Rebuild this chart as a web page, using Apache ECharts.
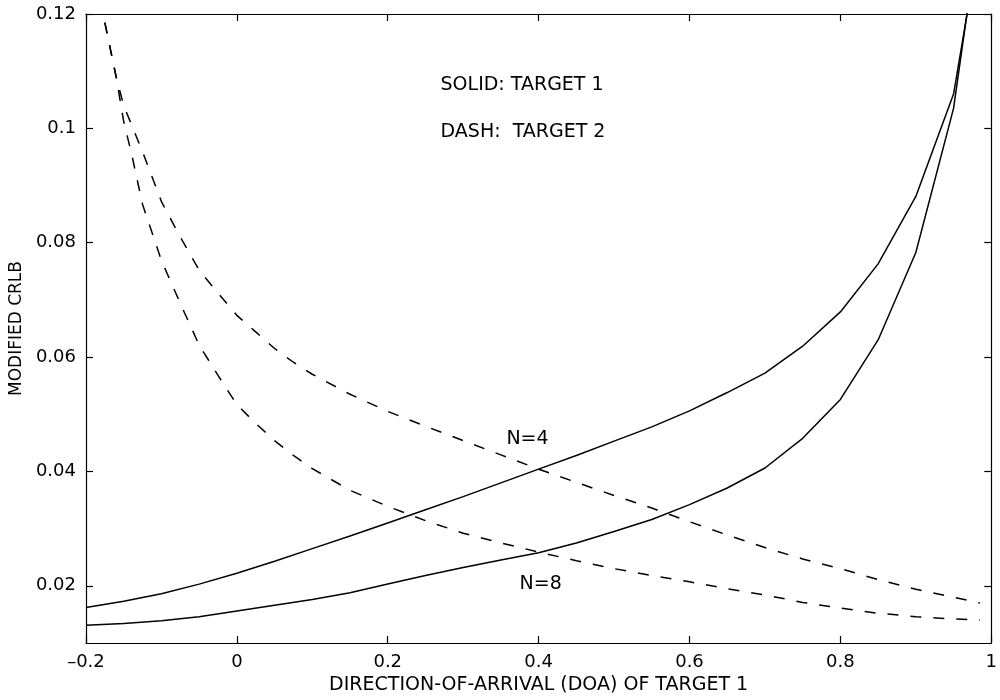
<!DOCTYPE html>
<html>
<head>
<meta charset="utf-8">
<script src="https://cdn.jsdelivr.net/npm/echarts@6/dist/echarts.min.js"></script>
<style>
html,body{margin:0;padding:0;background:#fff;}
#chart{width:1000px;height:700px;}
</style>
</head>
<body>
<div id="chart"></div>
<script>
// ---- data ----
var xSolid = [-0.2,-0.15,-0.1,-0.05,0,0.05,0.1,0.15,0.2,0.25,0.3,0.35,0.4,0.45,0.5,0.55,0.6,0.65,0.7,0.75,0.8,0.85,0.9,0.95,1.0];
var solidN4 = [0.0162,0.0173,0.0186,0.0203,0.0222,0.0243,0.0265,0.0287,0.0310,0.0333,0.0356,0.0380,0.0404,0.0428,0.0453,0.0478,0.0506,0.0538,0.0572,0.0619,0.0679,0.0763,0.0881,0.1060,0.1450];
var solidN8 = [0.0131,0.0134,0.0139,0.0146,0.0156,0.0166,0.0176,0.0188,0.0203,0.0218,0.0232,0.0245,0.0258,0.0275,0.0295,0.0316,0.0342,0.0371,0.0406,0.0458,0.0526,0.0630,0.0783,0.1035,0.1500];

var xDashN4 = [-0.175,-0.16,-0.15,-0.125,-0.1,-0.075,-0.05,-0.025,0,0.025,0.05,0.075,0.1,0.15,0.2,0.25,0.3,0.35,0.4,0.45,0.5,0.55,0.6,0.65,0.7,0.75,0.8,0.85,0.9,0.95,0.985];
var dashN4  = [0.1185,0.1090,0.1040,0.0959,0.0872,0.0810,0.0752,0.0712,0.0673,0.0644,0.0615,0.0591,0.0570,0.0535,0.0505,0.0479,0.0454,0.0429,0.0404,0.0381,0.0358,0.0336,0.0312,0.0289,0.0267,0.0247,0.0230,0.0211,0.0194,0.0180,0.0170];

var xDashN8 = [-0.175,-0.16,-0.15,-0.14,-0.125,-0.1,-0.075,-0.05,-0.025,0,0.025,0.05,0.075,0.1,0.15,0.2,0.25,0.3,0.35,0.4,0.45,0.5,0.55,0.6,0.65,0.7,0.75,0.8,0.85,0.9,0.95,0.985];
var dashN8  = [0.1185,0.1090,0.1012,0.0958,0.0867,0.0769,0.0694,0.0621,0.0568,0.0517,0.0484,0.0454,0.0428,0.0405,0.0367,0.0339,0.0314,0.0292,0.0275,0.0259,0.0244,0.0230,0.0218,0.0207,0.0195,0.0184,0.0171,0.0161,0.0152,0.0146,0.0142,0.0140];

var xTicks = [-0.2,0,0.2,0.4,0.6,0.8,1];
var yTicks = [0.02,0.04,0.06,0.08,0.1,0.12];

var annoText = ['SOLID: TARGET 1','DASH:  TARGET 2','N=4','N=8'];
var annoX = [0.2693,0.2693,0.3566,0.374];
var annoY = [0.1076,0.0994,0.0457,0.0203];

var xName = 'DIRECTION-OF-ARRIVAL (DOA) OF TARGET 1';
var yName = 'MODIFIED CRLB';

// ---- chart ----
function pairs(xs, ys){ return xs.map(function(x,i){ return [x, ys[i]]; }); }
var FONT = 'DejaVu Sans';
var chart = echarts.init(document.getElementById('chart'), null, {renderer:'canvas'});

function fmtX(v){
  var s = String(Math.round(v*10)/10);
  return s.replace('-', '\u2013');
}
var axisLineStyle = {show:true, onZero:false, lineStyle:{color:'#000', width:1.2}};
var tickStyle = {show:true, inside:true, length:7, lineStyle:{color:'#000', width:1.2}};

var option = {
  animation:false,
  backgroundColor:'#fff',
  grid:{left:83, right:2, top:14, bottom:50, containLabel:false},
  xAxis:[{
    type:'value', min:-0.2, max:1, interval:0.2, position:'bottom',
    name:xName, nameLocation:'middle', nameGap:33,
    nameTextStyle:{fontFamily:FONT, fontSize:19, color:'#000'},
    axisLine:axisLineStyle, axisTick:tickStyle,
    axisLabel:{show:true, margin:10, fontFamily:FONT, fontSize:18, color:'#000', formatter:fmtX, showMinLabel:true, showMaxLabel:true},
    splitLine:{show:false}
  },{
    type:'value', min:-0.2, max:1, interval:0.2, position:'top',
    axisLine:axisLineStyle, axisTick:tickStyle, axisLabel:{show:false}, splitLine:{show:false}
  }],
  yAxis:[{
    type:'value', min:0.01, max:0.12, interval:0.01, position:'left',
    name:yName, nameLocation:'middle', nameGap:50, nameRotate:90,
    nameTextStyle:{fontFamily:FONT, fontSize:17, color:'#000'},
    axisLine:axisLineStyle,
    axisTick:Object.assign({}, tickStyle, {customValues:yTicks}),
    axisLabel:{show:true, margin:10, fontFamily:FONT, fontSize:18, color:'#000', customValues:yTicks,
      formatter:function(v){ return String(Math.round(v*100)/100); }},
    splitLine:{show:false}
  },{
    type:'value', min:0.01, max:0.12, interval:0.01, position:'right',
    axisLine:axisLineStyle,
    axisTick:Object.assign({}, tickStyle, {customValues:yTicks}),
    axisLabel:{show:false}, splitLine:{show:false}
  }],
  series:[
    {type:'line', name:'Target 1 N=4', data:pairs(xSolid, solidN4), showSymbol:false, smooth:false, clip:true,
     lineStyle:{color:'#000', width:1.5, type:'solid'}, silent:true},
    {type:'line', name:'Target 1 N=8', data:pairs(xSolid, solidN8), showSymbol:false, smooth:false, clip:true,
     lineStyle:{color:'#000', width:1.5, type:'solid'}, silent:true},
    {type:'line', name:'Target 2 N=4', data:pairs(xDashN4, dashN4), showSymbol:false, smooth:false, clip:true,
     lineStyle:{color:'#000', width:1.5, type:[11,12]}, silent:true},
    {type:'line', name:'Target 2 N=8', data:pairs(xDashN8, dashN8), showSymbol:false, smooth:false, clip:true,
     lineStyle:{color:'#000', width:1.5, type:[11,12]}, silent:true},
    {type:'scatter', name:'annotations', symbolSize:1, silent:true,
     itemStyle:{color:'rgba(0,0,0,0)'},
     data:annoText.map(function(t,i){ return {value:[annoX[i], annoY[i]], name:t}; }),
     label:{show:true, position:'right', distance:0, align:'left', verticalAlign:'middle',
       fontFamily:FONT, fontSize:19, color:'#000', opacity:1, textBorderWidth:0,
       formatter:function(p){ return p.name; }}}
  ]
};
chart.setOption(option);
</script>
</body>
</html>
